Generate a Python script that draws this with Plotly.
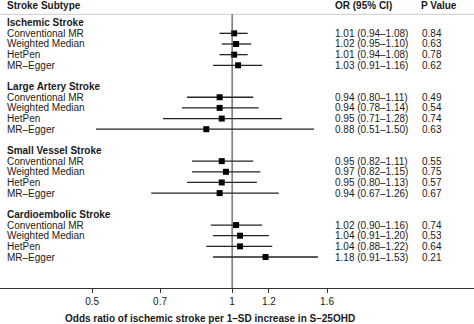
import plotly.graph_objects as go

groups = ["Ischemic Stroke", "Large Artery Stroke", "Small Vessel Stroke", "Cardioembolic Stroke"]
methods = ["Conventional MR", "Weighted Median", "HetPen", "MR–Egger"]

or_vals = [[1.01, 1.02, 1.01, 1.03],
           [0.94, 0.94, 0.95, 0.88],
           [0.95, 0.97, 0.95, 0.94],
           [1.02, 1.04, 1.04, 1.18]]
ci_low = [[0.94, 0.95, 0.94, 0.91],
          [0.80, 0.78, 0.71, 0.51],
          [0.82, 0.82, 0.80, 0.67],
          [0.90, 0.91, 0.88, 0.91]]
ci_high = [[1.08, 1.10, 1.08, 1.16],
           [1.11, 1.14, 1.28, 1.50],
           [1.11, 1.15, 1.13, 1.26],
           [1.16, 1.20, 1.22, 1.53]]
p_vals = [["0.84", "0.63", "0.78", "0.62"],
          ["0.49", "0.54", "0.74", "0.63"],
          ["0.55", "0.75", "0.57", "0.67"],
          ["0.74", "0.53", "0.64", "0.21"]]

tick_vals = [0.5, 0.7, 1, 1.2, 1.6]
tick_text = ["0.5", "0.7", "1", "1.2", "1.6"]

FONT = "Liberation Sans, Arial, sans-serif"
TXT = "#1a1a1a"
W, H = 474, 324
FS = 10

xs, ys, ep, em = [], [], [], []
annotations = []
for g, gname in enumerate(groups):
    base = g * 6
    annotations.append(dict(x=5 / W, xref="paper", y=base, yref="y", text="<b>%s</b>" % gname,
                            xanchor="left", yanchor="middle", showarrow=False,
                            font=dict(family=FONT, size=FS, color=TXT)))
    for i, m in enumerate(methods):
        yy = base + 1 + i
        o, lo, hi = or_vals[g][i], ci_low[g][i], ci_high[g][i]
        xs.append(o); ys.append(yy); ep.append(hi - o); em.append(o - lo)
        annotations.append(dict(x=5 / W, xref="paper", y=yy, yref="y", text=m,
                                xanchor="left", yanchor="middle", showarrow=False,
                                font=dict(family=FONT, size=FS, color=TXT)))
        annotations.append(dict(x=333 / W, xref="paper", y=yy, yref="y",
                                text="%.2f (%.2f–%.2f)" % (o, lo, hi),
                                xanchor="left", yanchor="middle", showarrow=False,
                                font=dict(family=FONT, size=FS, color=TXT)))
        annotations.append(dict(x=420 / W, xref="paper", y=yy, yref="y", text=p_vals[g][i],
                                xanchor="left", yanchor="middle", showarrow=False,
                                font=dict(family=FONT, size=FS, color=TXT)))

# headers
for txt, px in [("Stroke Subtype", 5), ("OR (95% CI)", 333), ("P Value", 419)]:
    annotations.append(dict(x=px / W, xref="paper", y=-1.62, yref="y", text="<b>%s</b>" % txt,
                            xanchor="left", yanchor="middle", showarrow=False,
                            font=dict(family=FONT, size=FS, color=TXT)))

annotations.append(dict(x=210 / W, xref="paper", y=-30 / 288, yref="paper",
                        text="<b>Odds ratio of ischemic stroke per 1–SD increase in S–25OHD</b>",
                        xanchor="center", yanchor="middle", showarrow=False,
                        font=dict(family=FONT, size=FS, color=TXT)))

fig = go.Figure()
fig.add_trace(go.Scatter(
    x=xs, y=ys, mode="markers",
    marker=dict(symbol="square", size=6, color="black"),
    error_x=dict(type="data", symmetric=False, array=ep, arrayminus=em,
                 thickness=1.3, width=0, color="#222222"),
    showlegend=False, hoverinfo="skip"))

top_y = -0.79
y_bottom = 24.91
fig.add_shape(type="line", xref="paper", x0=0, x1=1, yref="y", y0=top_y, y1=top_y,
              line=dict(color="#cccccc", width=1))
fig.add_shape(type="line", xref="x", x0=1, x1=1, yref="y", y0=top_y, y1=y_bottom,
              line=dict(color="#333333", width=1))

fig.update_layout(
    width=W, height=H,
    margin=dict(l=0, r=0, t=0, b=36),
    plot_bgcolor="white", paper_bgcolor="white",
    font=dict(family=FONT, size=FS, color=TXT),
    annotations=annotations,
    xaxis=dict(type="log", range=[-0.499, 0.520], tickvals=tick_vals, ticktext=tick_text,
               showgrid=False, zeroline=False, showline=True, linecolor="#333333", linewidth=1,
               ticks="outside", ticklen=4, tickwidth=1, tickcolor="#333333",
               tickfont=dict(family=FONT, size=FS, color=TXT)),
    yaxis=dict(range=[y_bottom, -2.13], visible=False, showgrid=False, zeroline=False),
)

fig.write_html("out.html")
